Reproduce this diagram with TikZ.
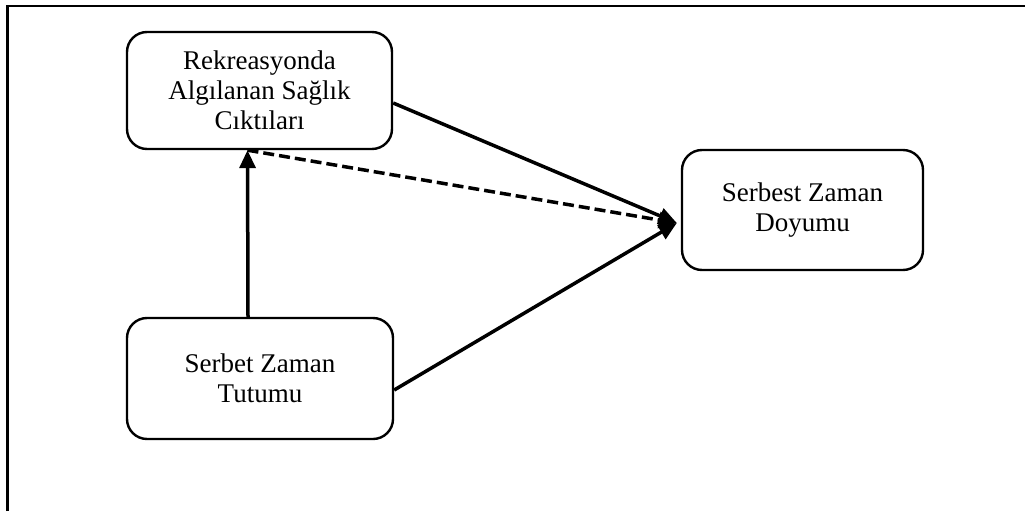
\documentclass[tikz,border=0pt]{standalone}
\usepackage{fontspec}
\setmainfont{Liberation Serif}
\usetikzlibrary{arrows.meta}
\begin{document}
\begin{tikzpicture}[x=1pt,y=-1pt,
  box/.style={draw=black,line width=2.4pt,rounded corners=20pt,align=center,
    font=\fontsize{27}{30}\selectfont,inner sep=0pt},
  conn/.style={line width=3.5pt,-{Triangle[length=18pt,width=16pt]}},
  dashconn/.style={conn,dash pattern=on 11pt off 5pt}]
\useasboundingbox (0,0) rectangle (1035,511);
\draw[line width=2.4pt] (7.5,511) -- (7.5,6) -- (1025,6);
\node[box,minimum width=265pt,minimum height=117pt] (b1) at (259.5,90.5) {Rekreasyonda\\Algılanan Sağlık\\Cıktıları};
\node[box,minimum width=266pt,minimum height=121pt] (b2) at (260,378.5) {Serbet Zaman\\Tutumu};
\node[box,minimum width=241pt,minimum height=120pt] (b3) at (802.5,210) {Serbest Zaman\\Doyumu};
\coordinate (tip) at ([xshift=-4pt,yshift=-13pt]b3.west);
\draw[conn] ([xshift=-12pt]b2.north) -- ([xshift=-12pt]b1.south);
\draw[conn] ([yshift=-12.5pt]b1.east) -- (tip);
\draw[conn] ([yshift=-11.5pt]b2.east) -- (tip);
\draw[dashconn] ([xshift=-12pt]b1.south) -- (tip);
\end{tikzpicture}
\end{document}
